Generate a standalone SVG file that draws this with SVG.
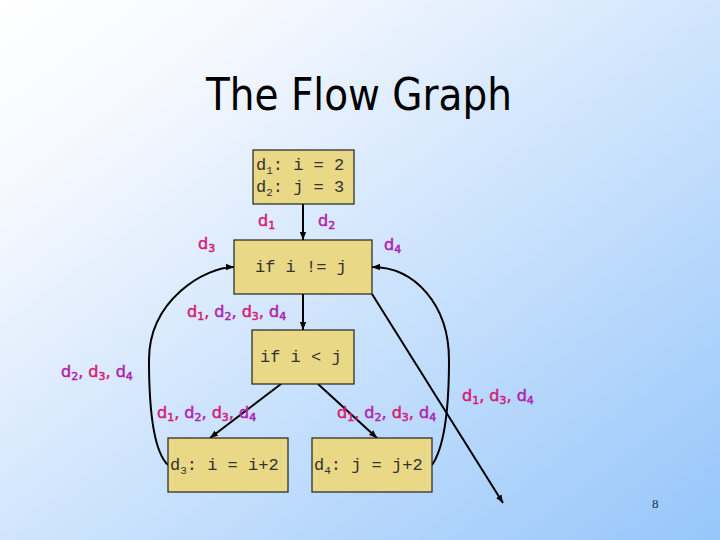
<svg xmlns="http://www.w3.org/2000/svg" width="720" height="540" viewBox="0 0 720 540">
<defs>
<linearGradient id="bg" x1="0" y1="0" x2="1" y2="1">
<stop offset="0" stop-color="#ffffff"/>
<stop offset="0.2" stop-color="#f4f8fe"/>
<stop offset="1" stop-color="#96c6fa"/>
</linearGradient>
<marker id="ah" viewBox="0 0 10 8" refX="10" refY="4" markerWidth="8" markerHeight="7" markerUnits="userSpaceOnUse" orient="auto">
<path d="M0,0 L10,4 L0,8 z" fill="#000"/>
</marker>
</defs>
<style>
.box{fill:#e9d886;stroke:#222;stroke-width:1.2}
.code{font-family:"Liberation Mono","Courier New",monospace;font-size:17px;fill:#333}
.csub{font-size:11px}
.edge{fill:none;stroke:#000;stroke-width:2;marker-end:url(#ah)}
.lbl{font-family:"DejaVu Sans",Verdana,sans-serif;font-size:16px;stroke-width:0.5}
.s{font-size:11px}
.p{fill:#d41c78;stroke:#d41c78}
.q{fill:#b022b0;stroke:#b022b0}
</style>
<rect width="720" height="540" fill="url(#bg)"/>
<text x="206" y="110" font-family="DejaVu Sans, Verdana, sans-serif" font-size="44" fill="#000" textLength="306" lengthAdjust="spacingAndGlyphs">The Flow Graph</text>

<g id="connectors">
<path class="edge" d="M303,204 L303,240"/>
<path class="edge" d="M303,294 L303,330"/>
<path class="edge" d="M281,384 L210,438"/>
<path class="edge" d="M318,384 L377,438"/>
<path class="edge" d="M168,465 C152,450 149,400 149,360 C149,300 205,267 234,267"/>
<path class="edge" d="M432,465 C446,445 449,400 449,360 C449,305 415,267 372,267"/>
<path class="edge" d="M372,294 L503,503"/>
</g>

<g id="n1">
<rect class="box" x="253" y="150" width="101" height="54"/>
<text class="code" x="256" y="170">d<tspan class="csub" dy="4">1</tspan><tspan dy="-4">: i = 2</tspan></text>
<text class="code" x="256" y="192">d<tspan class="csub" dy="4">2</tspan><tspan dy="-4">: j = 3</tspan></text>
</g>
<g id="n2">
<rect class="box" x="234" y="240" width="138" height="54"/>
<text class="code" x="255" y="272">if i != j</text>
</g>
<g id="n3">
<rect class="box" x="252" y="330" width="102" height="54"/>
<text class="code" x="260" y="362">if i &lt; j</text>
</g>
<g id="n4">
<rect class="box" x="168" y="438" width="120" height="54"/>
<text class="code" x="170" y="470">d<tspan class="csub" dy="4">3</tspan><tspan dy="-4">: i = i+2</tspan></text>
</g>
<g id="n5">
<rect class="box" x="312" y="438" width="120" height="54"/>
<text class="code" x="314" y="470">d<tspan class="csub" dy="4">4</tspan><tspan dy="-4">: j = j+2</tspan></text>
</g>

<g id="labels">
<text class="lbl" x="258" y="226"><tspan class="p">d</tspan><tspan class="p s" dy="3">1</tspan></text>
<text class="lbl" x="318" y="226"><tspan class="q">d</tspan><tspan class="q s" dy="3">2</tspan></text>
<text class="lbl" x="198" y="249"><tspan class="p">d</tspan><tspan class="p s" dy="3">3</tspan></text>
<text class="lbl" x="384" y="250"><tspan class="q">d</tspan><tspan class="q s" dy="3">4</tspan></text>
<text class="lbl" x="187" y="317"><tspan class="p">d</tspan><tspan class="p s" dy="3">1</tspan><tspan class="p" dy="-3">, </tspan><tspan class="q">d</tspan><tspan class="q s" dy="3">2</tspan><tspan class="q" dy="-3">, </tspan><tspan class="p">d</tspan><tspan class="p s" dy="3">3</tspan><tspan class="p" dy="-3">, </tspan><tspan class="q">d</tspan><tspan class="q s" dy="3">4</tspan></text>
<text class="lbl" x="61" y="377"><tspan class="q">d</tspan><tspan class="q s" dy="3">2</tspan><tspan class="q" dy="-3">, </tspan><tspan class="p">d</tspan><tspan class="p s" dy="3">3</tspan><tspan class="p" dy="-3">, </tspan><tspan class="q">d</tspan><tspan class="q s" dy="3">4</tspan></text>
<text class="lbl" x="157" y="418"><tspan class="p">d</tspan><tspan class="p s" dy="3">1</tspan><tspan class="p" dy="-3">, </tspan><tspan class="q">d</tspan><tspan class="q s" dy="3">2</tspan><tspan class="q" dy="-3">, </tspan><tspan class="p">d</tspan><tspan class="p s" dy="3">3</tspan><tspan class="p" dy="-3">, </tspan><tspan class="q">d</tspan><tspan class="q s" dy="3">4</tspan></text>
<text class="lbl" x="337" y="418"><tspan class="p">d</tspan><tspan class="p s" dy="3">1</tspan><tspan class="p" dy="-3">, </tspan><tspan class="q">d</tspan><tspan class="q s" dy="3">2</tspan><tspan class="q" dy="-3">, </tspan><tspan class="p">d</tspan><tspan class="p s" dy="3">3</tspan><tspan class="p" dy="-3">, </tspan><tspan class="q">d</tspan><tspan class="q s" dy="3">4</tspan></text>
<text class="lbl" x="462" y="401"><tspan class="p">d</tspan><tspan class="p s" dy="3">1</tspan><tspan class="p" dy="-3">, </tspan><tspan class="p">d</tspan><tspan class="p s" dy="3">3</tspan><tspan class="p" dy="-3">, </tspan><tspan class="q">d</tspan><tspan class="q s" dy="3">4</tspan></text>
</g>
<text x="652" y="508" font-family="Liberation Serif, Times New Roman, serif" font-size="13" fill="#1a2a5a">8</text>
</svg>
